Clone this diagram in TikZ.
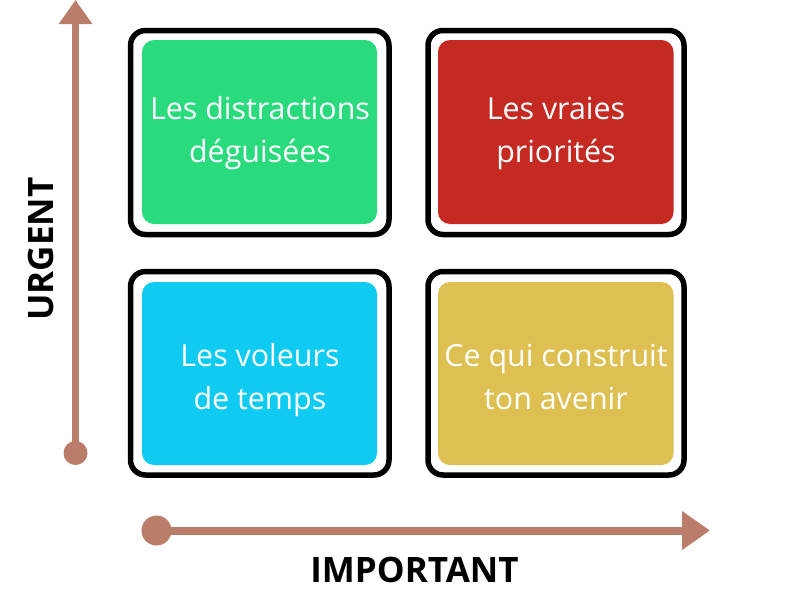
\documentclass[tikz,border=0pt]{standalone}
\usepackage{fontspec}
\setmainfont{Open Sans}
\usetikzlibrary{arrows.meta}
\definecolor{qgreen}{RGB}{42,219,126}
\definecolor{qred}{RGB}{196,41,34}
\definecolor{qblue}{RGB}{15,203,242}
\definecolor{qyellow}{RGB}{222,192,82}
\definecolor{axiscol}{RGB}{185,125,106}
\tikzset{
  outerbox/.style={draw=black, line width=5.5pt, rounded corners=15pt},
  innerbox/.style={rounded corners=12pt},
  quadtext/.style={text=white, align=center, font=\fontsize{30.4}{43}\selectfont, inner sep=0pt},
  axisline/.style={draw=axiscol, line cap=butt},
  axisdot/.style={circle, fill=axiscol, inner sep=0pt},
  axislabel/.style={font=\fontsize{35}{42}\selectfont\bfseries, inner sep=0pt}
}
\begin{document}
\begin{tikzpicture}[x=1pt,y=-1pt]
\useasboundingbox[fill=white] (0,0) rectangle (800,600);
% quadrant frames
\draw[outerbox] (130.5,30.5) rectangle (389,234.5);
\draw[outerbox] (428,30.5) rectangle (684,234.5);
\draw[outerbox] (130.5,271.5) rectangle (389,475);
\draw[outerbox] (428,271.5) rectangle (684,475);
% inner fills
\fill[innerbox, qgreen] (142,40) rectangle (377,224);
\fill[innerbox, qred] (438,40) rectangle (673.5,224);
\fill[innerbox, qblue] (142,282) rectangle (377,465);
\fill[innerbox, qyellow] (438,282) rectangle (673.5,465);
% texts
\node[quadtext] (tl) at (260,132) {\strut Les distractions\\\strut déguisées};
\node[quadtext] (tr) at (556,132) {\strut Les vraies\\\strut priorités};
\node[quadtext] (bl) at (260,379) {\strut Les voleurs\\\strut de temps};
\node[quadtext] (br) at (556,379) {\strut Ce qui construit\\\strut ton avenir};
% vertical axis
\node[axisdot, minimum size=24pt] (vdot) at (75.5,453) {};
\coordinate (vtip) at (75.5,0);
\draw[axisline, line width=7pt, -{Triangle[length=24pt,width=32pt]}] (vdot.center) -- (vtip);
% horizontal axis
\node[axisdot, minimum size=30pt] (hdot) at (156.5,530.5) {};
\coordinate (htip) at (710,530.5);
\draw[axisline, line width=8pt, -{Triangle[length=28pt,width=37pt]}] (hdot.center) -- (htip);
% labels
\node[axislabel, anchor=base] (imp) at (414.5,582.7) {IMPORTANT};
\node[axislabel, rotate=90, anchor=base] (urg) at (53,249) {URGENT};
\end{tikzpicture}
\end{document}
